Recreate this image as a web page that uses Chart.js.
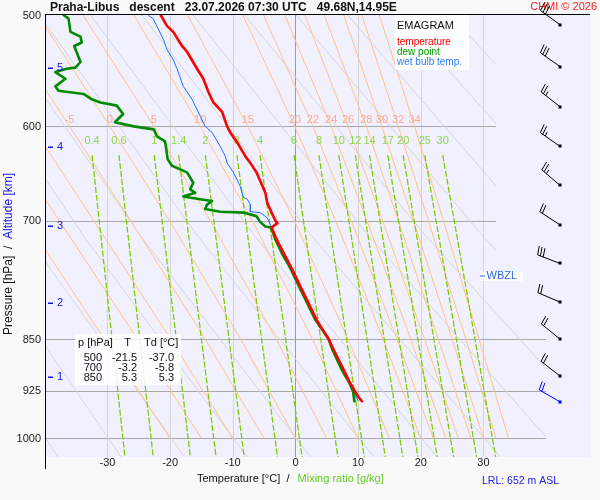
<!DOCTYPE html>
<html>
<head>
<meta charset="utf-8">
<title>Emagram Praha-Libus</title>
<script src="https://cdn.jsdelivr.net/npm/chart.js@4.4.1/dist/chart.umd.min.js"></script>
<style>
  html, body { margin: 0; padding: 0; background: #f9f9f9; }
  canvas { display: block; }
</style>
</head>
<body>
<canvas id="emagram" width="600" height="500"></canvas>
<script>
var FONT = 'Arial, "Liberation Sans", Helvetica, sans-serif';

// descent profile: pressure [hPa] / temperature [°C]
var tempP = [500, 509, 514, 526, 531, 546, 555, 567, 577, 586, 600, 606, 616, 630, 637, 647, 669, 680, 691, 700, 703, 708, 722, 738, 757, 780, 824, 850, 865, 894, 913, 926, 935, 941];
var tempT = [-21.5, -20.5, -19.5, -18.1, -17.3, -15.7, -14.7, -13.9, -13.1, -11.7, -10.9, -10.4, -9.3, -8.0, -7.2, -6.2, -4.8, -4.5, -3.8, -3.2, -2.9, -3.8, -3.0, -1.9, -0.6, 0.8, 3.4, 5.3, 6.1, 7.7, 8.7, 9.5, 10.1, 10.6];

var dewP = [500, 503, 514, 518, 523, 526, 540, 545, 546, 549, 555, 562, 566, 569, 574, 577, 580, 588, 596, 600, 603, 610, 615, 623, 633, 640, 644, 647, 658, 665, 669, 673, 676, 678, 682, 687, 690, 691, 695, 701, 707, 708, 722, 738, 757, 780, 824, 850, 865, 894, 902, 913, 926, 941];
var dewT = [-37.0, -36.2, -35.9, -34.3, -34.1, -35.3, -34.3, -35.1, -36.5, -38.3, -36.7, -38.3, -37.8, -33.8, -32.5, -31.1, -28.5, -27.5, -28.8, -25.8, -22.6, -22.1, -20.8, -20.6, -20.4, -19.7, -18.3, -17.3, -16.3, -16.8, -16.0, -17.9, -15.2, -13.3, -14.1, -14.4, -12.0, -8.3, -6.2, -5.7, -4.8, -3.9, -3.2, -2.2, -0.8, 0.6, 3.2, 5.3, 5.9, 7.4, 7.9, 8.6, 9.2, 9.4];

var wbP = [500, 503, 520, 529, 538, 546, 562, 567, 574, 590, 600, 606, 620, 630, 637, 647, 662, 674, 676, 682, 690, 691, 697, 705, 708, 722, 738, 757, 780, 824, 850, 865, 894, 913, 926, 941];
var wbT = [-23.5, -22.7, -21.1, -20.5, -19.5, -18.9, -17.9, -17.3, -16.5, -15.2, -14.4, -13.3, -12.0, -11.2, -10.9, -9.9, -8.8, -8.3, -7.7, -7.2, -7.2, -5.6, -4.5, -4.0, -3.85, -3.1, -2.05, -0.7, 0.7, 3.3, 5.3, 6.0, 7.55, 8.65, 9.35, 10.0];

// wind barbs
var windP = [508, 544, 581, 620, 661, 705, 751, 800, 850, 903, 942];
var windDir = [306, 305, 308, 305, 311, 303, 291, 293, 309, 308, 300];
var windKt = [30, 30, 25, 25, 25, 20, 30, 20, 20, 20, 20];

// table
var tableP = [500, 700, 850];
var tableT = [-21.5, -3.2, 5.3];
var tableTd = [-37.0, -5.8, 5.3];

// altitude marks
var altKm = [1, 2, 3, 4, 5];
var altP = [905, 801, 706, 621, 545];
var wbzlP = 767;

// axes
var xTicks = [-30, -20, -10, 0, 10, 20, 30];
var yTicks = [500, 600, 700, 850, 925, 1000];
var isotherms = [-30, -20, -10, 0, 10, 20, 30];
var isobars = [600, 700, 850, 925, 1000];

// mixing ratio lines [g/kg]: temperature at top (629 hPa) and bottom (1031 hPa)
var mrLabels = ['0.4', '0.6', '1', '1.4', '2', '3', '4', '6', '8', '10', '12', '14', '17', '20', '25', '30'];
var mrTopT = [-32.45, -28.16, -22.52, -18.63, -14.37, -9.34, -5.64, -0.23, 3.75, 6.92, 9.56, 11.82, 14.73, 17.19, 20.64, 23.50];
var mrBotT = [-27.2, -22.69, -16.76, -12.67, -8.18, -2.87, 1.05, 6.77, 10.98, 14.33, 17.13, 19.54, 22.62, 25.24, 28.91, 31.95];
var mrTopP = 629, mrBotP = 1031;

// pseudo-adiabats (wet bulb potential temperature)
var saTheta = [-20, -15, -10, -5, 0, 5, 10, 15, 20, 22, 24, 26, 28, 30, 32, 34];
var saLevels = [1000, 850, 700, 600, 500];
var saT1000 = [-20, -15, -10, -5, 0, 5, 10, 15, 20, 22, 24, 26, 28, 30, 32, 34];
var saT850 = [-30.5, -25.2, -19.9, -14.4, -8.75, -3.05, 2.7, 8.4, 14.0, 16.2, 18.4, 20.6, 22.8, 25.0, 27.2, 29.3];
var saT700 = [-43.0, -37.7, -32.2, -26.3, -20.1, -13.6, -6.9, -0.2, 6.4, 8.9, 11.4, 13.9, 16.4, 18.8, 21.2, 23.6];
var saT600 = [-53.0, -47.6, -42.0, -36.05, -29.6, -22.6, -15.2, -7.6, -0.1, 2.8, 5.7, 8.4, 11.3, 13.8, 16.4, 19.0];
var saT500 = [-64.5, -59.0, -53.7, -47.6, -41.1, -33.9, -25.8, -17.2, -8.4, -5.1, -1.7, 1.5, 4.6, 7.7, 10.6, 13.4];

// dry adiabats (potential temperature °C) at 500, 718 and 1031 hPa
var dryTheta = [-40, -30, -20, -10, 0, 10, 20, 30, 40, 50, 60, 70, 80, 90, 100, 110];
var dryT500 = [-81.9, -73.7, -65.5, -57.3, -49.1, -40.9, -32.7, -24.5, -16.3, -8.1, 0.1, 8.3, 16.5, 24.7, 33.0, 41.2];
var dryT718 = [-61.0, -51.9, -42.8, -33.8, -24.7, -15.6, -6.5, 2.6, 11.7, 20.8, 29.9, 39.0, 48.1, 57.2, 66.3, 75.4];
var dryT1031 = [-37.9, -27.8, -17.7, -7.7, 2.4, 12.5, 22.6, 32.7, 42.8, 52.9, 63.0, 73.1, 83.2, 93.2, 103.3, 113.4];

// grid clipped at 32 °C above 800 hPa, at 40 °C below
var clipT = [32, 40];
var clipSplitP = 800;

function pts(ps, ts) {
    return ps.map(function (p, i) { return { x: ts[i], y: p }; });
}

var datasets = [
    { label: 'temperature', data: pts(tempP, tempT), borderColor: '#ff0000', borderWidth: 2.6, borderJoinStyle: 'round', borderCapStyle: 'round' },
    { label: 'dew point', data: pts(dewP, dewT), borderColor: '#008a00', borderWidth: 2.6, borderJoinStyle: 'round', borderCapStyle: 'round' },
    { label: 'wet bulb temp.', data: pts(wbP, wbT), borderColor: '#1f6fff', borderWidth: 1 }
];
mrLabels.forEach(function (w, i) {
    datasets.push({ data: [{ x: mrTopT[i], y: mrTopP }, { x: mrBotT[i], y: mrBotP }], borderColor: '#80cc00', borderWidth: 1.3, borderDash: [6, 2], bg: true });
});
saTheta.forEach(function (th, i) {
    datasets.push({ data: pts(saLevels, [saT1000[i], saT850[i], saT700[i], saT600[i], saT500[i]]), borderColor: '#ffc480', borderWidth: 1, bg: true });
});
dryTheta.forEach(function (th, i) {
    datasets.push({ data: pts([500, 718, 1031], [dryT500[i], dryT718[i], dryT1031[i]]), borderColor: '#d6d6d6', borderWidth: 1, bg: true });
});

function txt(ctx, s, x, y, font, color, align) {
    ctx.font = font;
    ctx.fillStyle = color;
    ctx.textAlign = align || 'left';
    ctx.textBaseline = 'middle';
    ctx.fillText(s, x, y);
}

function drawBarb(ctx, x0, y0, dir, kt, color) {
    var r = dir * Math.PI / 180;
    var ux = Math.sin(r), uy = -Math.cos(r);
    var px = -uy, py = ux;
    var c = Math.cos(Math.PI / 18), s = Math.sin(Math.PI / 18);
    var fx = px * c + ux * s, fy = py * c + uy * s;
    var L = 24, F = 9, gap = 3;
    ctx.strokeStyle = color;
    ctx.fillStyle = color;
    ctx.lineWidth = 1;
    ctx.beginPath();
    ctx.moveTo(x0, y0);
    ctx.lineTo(x0 + ux * L, y0 + uy * L);
    var pos = L, rest = kt, bx, by;
    while (rest >= 10) {
        bx = x0 + ux * pos; by = y0 + uy * pos;
        ctx.moveTo(bx, by);
        ctx.lineTo(bx + fx * F, by + fy * F);
        pos -= gap; rest -= 10;
    }
    if (rest >= 5) {
        bx = x0 + ux * pos; by = y0 + uy * pos;
        ctx.moveTo(bx, by);
        ctx.lineTo(bx + fx * F / 2, by + fy * F / 2);
    }
    ctx.stroke();
    ctx.fillRect(Math.round(x0) - 1.5, Math.round(y0) - 1.5, 3, 3);
}

var emagramDecor = {
    id: 'emagramDecor',
    beforeDraw: function (chart) {
        var ctx = chart.ctx, a = chart.chartArea, x = chart.scales.x, y = chart.scales.y;
        ctx.save();
        ctx.fillStyle = '#f9f9f9';
        ctx.fillRect(0, 0, chart.width, chart.height);
        ctx.fillStyle = '#f0f0ff';
        ctx.fillRect(a.left, a.top, a.right - a.left, a.bottom - a.top);
        ctx.lineWidth = 1;
        isotherms.forEach(function (t) {
            var px = Math.round(x.getPixelForValue(t)) + 0.5;
            ctx.strokeStyle = t === 0 ? '#9a9a9a' : '#d4d4d4';
            ctx.beginPath();
            ctx.moveTo(px, a.top);
            ctx.lineTo(px, a.bottom);
            ctx.stroke();
        });
        ctx.strokeStyle = '#a8a8a8';
        isobars.forEach(function (p) {
            var py = Math.round(y.getPixelForValue(p)) + 0.5;
            var xe = x.getPixelForValue(p < clipSplitP ? clipT[0] : clipT[1]);
            ctx.beginPath();
            ctx.moveTo(a.left, py);
            ctx.lineTo(xe, py);
            ctx.stroke();
        });
        ctx.restore();
    },
    beforeDatasetDraw: function (chart, args) {
        var ds = chart.data.datasets[args.index];
        var ctx = chart.ctx, a = chart.chartArea, x = chart.scales.x, y = chart.scales.y;
        if (ds.bg) {
            var x1 = x.getPixelForValue(clipT[0]), x2 = x.getPixelForValue(clipT[1]), ys = y.getPixelForValue(clipSplitP);
            ctx.save();
            ctx.beginPath();
            ctx.moveTo(a.left, a.top);
            ctx.lineTo(x1, a.top);
            ctx.lineTo(x1, ys);
            ctx.lineTo(x2, ys);
            ctx.lineTo(x2, a.bottom);
            ctx.lineTo(a.left, a.bottom);
            ctx.closePath();
            ctx.clip();
        }
        if (args.index === 2) {
            // labels of the auxiliary lines, below the sounding curves
            ctx.save();
            var yo = y.getPixelForValue(594);
            saTheta.forEach(function (th, i) {
                var px = x.getPixelForValue(saT600[i]);
                if (px > a.left + 10) txt(ctx, String(th), px, yo, '11px ' + FONT, '#ffa88c', 'center');
            });
            var yg = y.getPixelForValue(615);
            mrLabels.forEach(function (w, i) {
                txt(ctx, w, x.getPixelForValue(mrTopT[i]), yg, '11px ' + FONT, '#8ed64a', 'center');
            });
            ctx.restore();
        }
    },
    afterDatasetDraw: function (chart, args) {
        if (chart.data.datasets[args.index].bg) chart.ctx.restore();
    },
    afterDatasetsDraw: function (chart) {
        var ctx = chart.ctx, a = chart.chartArea, x = chart.scales.x, y = chart.scales.y;
        ctx.save();
        // legend box
        ctx.fillStyle = 'rgba(255,255,255,0.9)';
        ctx.fillRect(395, a.top, 74, 55);
        txt(ctx, 'EMAGRAM', 397, 26, '11px ' + FONT, '#111111');
        txt(ctx, 'temperature', 397, 42, '10px ' + FONT, '#ff0000');
        txt(ctx, 'dew point', 397, 52, '10px ' + FONT, '#00a000');
        txt(ctx, 'wet bulb temp.', 397, 62, '10px ' + FONT, '#2a7cff');

        // value table
        ctx.fillStyle = 'rgba(255,255,255,0.85)';
        ctx.fillRect(75, 334, 106, 51);
        var f = '11px ' + FONT;
        txt(ctx, 'p [hPa]', 78, 343, f, '#111111');
        txt(ctx, 'T', 127.5, 343, f, '#111111', 'center');
        txt(ctx, 'Td [°C]', 144, 343, f, '#111111');
        tableP.forEach(function (p, i) {
            var ry = 358 + i * 10;
            txt(ctx, String(p), 102, ry, f, '#111111', 'right');
            txt(ctx, tableT[i].toFixed(1), 137, ry, f, '#111111', 'right');
            txt(ctx, tableTd[i].toFixed(1), 174, ry, f, '#111111', 'right');
        });

        // altitude marks
        ctx.fillStyle = '#1515ee';
        altKm.forEach(function (km, i) {
            var py = y.getPixelForValue(altP[i]);
            ctx.fillRect(a.left + 2, Math.round(py) - 0.5, 5, 1.5);
            txt(ctx, String(km), a.left + 11, py, '11px ' + FONT, '#1515ee');
        });

        // wet bulb zero level
        var wy = y.getPixelForValue(wbzlP);
        ctx.fillStyle = 'rgba(255,255,255,0.9)';
        ctx.fillRect(480, wy - 4.5, 43, 9);
        ctx.fillStyle = '#2a6ae0';
        ctx.fillRect(480, Math.round(wy) - 0.5, 5, 1);
        txt(ctx, 'WBZL', 486.5, wy, '11px ' + FONT, '#2a6ae0');
        ctx.restore();
    },
    afterDraw: function (chart) {
        var ctx = chart.ctx, a = chart.chartArea, x = chart.scales.x, y = chart.scales.y;
        ctx.save();
        // frame
        ctx.fillStyle = '#000000';
        ctx.fillRect(a.left - 1, a.top - 1, a.right - a.left + 1, 1);
        ctx.fillRect(a.left - 1, a.top - 1, 1, a.bottom - a.top + 13);

        // tick labels
        xTicks.forEach(function (t) {
            txt(ctx, String(t), x.getPixelForValue(t), a.bottom + 5.5, '11px ' + FONT, '#222222', 'center');
        });
        yTicks.forEach(function (p) {
            txt(ctx, String(p), a.left - 5, y.getPixelForValue(p) + 0.5, '11px ' + FONT, '#222222', 'right');
        });

        // axis titles
        ctx.font = '11px ' + FONT;
        var s1 = 'Temperature [°C]  /  ';
        txt(ctx, s1, 197, 479, '11px ' + FONT, '#111111');
        var w1 = ctx.measureText(s1).width;
        txt(ctx, 'Mixing ratio [g/kg]', 197 + w1 + 2, 479, '11px ' + FONT, '#66cc22');

        ctx.save();
        ctx.translate(9, 335);
        ctx.rotate(-Math.PI / 2);
        var s2 = 'Pressure [hPa]  /  ';
        txt(ctx, s2, 0, 0, '12px ' + FONT, '#111111');
        var w2 = ctx.measureText(s2).width;
        txt(ctx, 'Altitude [km]', w2, 0, '12px ' + FONT, '#1515ee');
        ctx.restore();

        txt(ctx, 'LRL: 652 m ASL', 482, 481, '10.5px ' + FONT, '#2020e0');

        // title
        txt(ctx, 'Praha-Libus   descent   23.07.2026 07:30 UTC   49.68N,14.95E', 50, 8, 'bold 12px ' + FONT, '#111111');
        txt(ctx, 'CHMI © 2026', 597, 7, '11px ' + FONT, '#ff2020', 'right');

        // wind barbs
        windP.forEach(function (p, i) {
            var col = i === windP.length - 1 ? '#0000ff' : '#000000';
            drawBarb(ctx, a.right - 30, y.getPixelForValue(p), windDir[i], windKt[i], col);
        });
        ctx.restore();
    }
};

var chart = new Chart(document.getElementById('emagram').getContext('2d'), {
    type: 'line',
    data: { datasets: datasets },
    options: {
        responsive: false,
        animation: false,
        events: [],
        layout: { padding: { left: 46, right: 10, top: 15, bottom: 43 } },
        plugins: { legend: { display: false }, tooltip: { enabled: false } },
        elements: { point: { radius: 0 }, line: { tension: 0, fill: false } },
        scales: {
            x: { type: 'linear', min: -39.8, max: 47, display: false },
            y: { type: 'logarithmic', min: 500, max: 1031, reverse: true, display: false }
        }
    },
    plugins: [emagramDecor]
});
</script>
</body>
</html>
